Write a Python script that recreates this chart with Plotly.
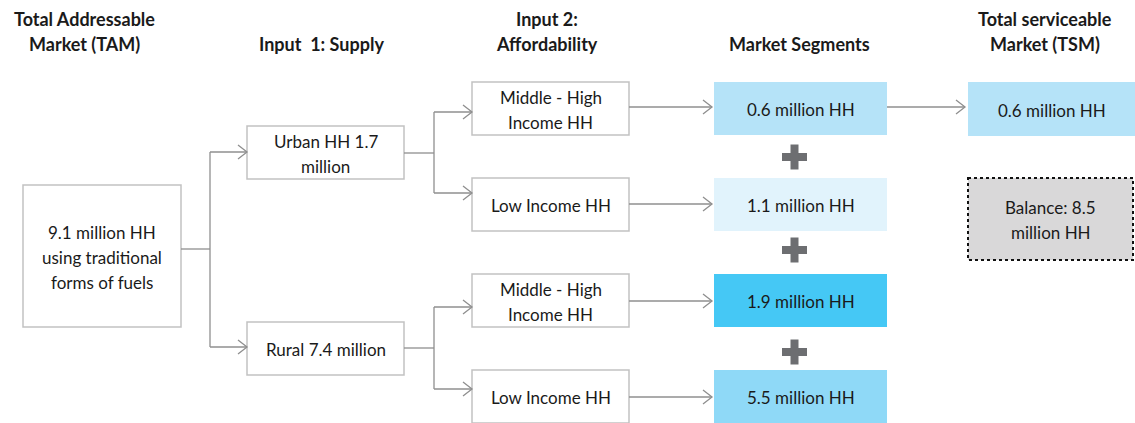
import plotly.graph_objects as go

# ---- data ----
headers = ["Total Addressable<br>Market (TAM)", "Input  1: Supply", "Input 2:<br>Affordability",
           "Market Segments", "Total serviceable<br>Market (TSM)"]
tam_label = "9.1 million HH<br>using traditional<br>forms of fuels"
supply_labels = ["Urban HH 1.7<br>million", "Rural 7.4 million"]
afford_labels = ["Middle - High<br>Income HH", "Low Income HH", "Middle - High<br>Income HH", "Low Income HH"]
segment_values = [0.6, 1.1, 1.9, 5.5]
segment_colors = ["#b5e3f8", "#e1f3fc", "#45c8f5", "#8fd9f7"]
tsm_value = 0.6
balance_value = 8.5

# ---- layout geometry (pixels) ----
W, H = 1135, 423
FONT = "Lato"
LINE = "#8f8f8f"
BORDER = "#c2c2c2"
TXT = "#1a1a1a"
LS = 25  # line spacing

fig = go.Figure()
shapes = []
ann = []

def text_lines(xc, yc, text, size=17, bold=False):
    lines = text.split("<br>")
    n = len(lines)
    for i, ln in enumerate(lines):
        y = yc + (i - (n - 1) / 2) * LS
        t = f"<b>{ln}</b>" if bold else ln
        ann.append(dict(x=xc, y=y, text=t, showarrow=False, yanchor="middle",
                        font=dict(family=FONT, size=size, color=TXT), align="center"))

def box(x0, y0, x1, y1, text, fill="white", line=BORDER, dash=None, lw=1.5, size=17):
    d = dict(type="rect", x0=x0, y0=y0, x1=x1, y1=y1, fillcolor=fill,
             line=dict(color=line, width=lw), layer="below")
    if dash:
        d["line"]["dash"] = dash
    shapes.append(d)
    text_lines((x0 + x1) / 2, (y0 + y1) / 2 + 1, text, size=size)

def seg(x0, y0, x1, y1):
    shapes.append(dict(type="line", x0=x0, y0=y0, x1=x1, y1=y1, line=dict(color=LINE, width=1.3)))

def arrow(x0, y, x1):
    seg(x0, y, x1, y)
    shapes.append(dict(type="path", path=f"M {x1-9},{y-7} L {x1},{y} L {x1-9},{y+7}",
                       line=dict(color=LINE, width=1.3)))

# headers
hx = [84, 321, 547, 799, 1045]
for x, t in zip(hx, headers):
    n = len(t.split("<br>"))
    text_lines(x, 44 - (n - 1) * LS / 2 - 0.5 * (n - 1), t, size=18, bold=True)

# TAM
box(23, 185, 181, 327, tam_label)
seg(181, 249, 210, 249)
seg(210, 152, 210, 347)
arrow(210, 152, 247)
arrow(210, 347, 247)

# supply
supply_y = [(126, 179), (322, 375)]
for (y0, y1), t in zip(supply_y, supply_labels):
    box(247, y0, 404, y1, t)

# affordability
afford_y = [(82, 135), (178, 231), (274, 327), (370, 423)]
branch = [(153, 112, 193), (348, 307, 389)]
for yc, ya, yb in branch:
    seg(404, yc, 434, yc)
    seg(434, ya, 434, yb)
    arrow(434, ya, 472)
    arrow(434, yb, 472)
for (y0, y1), t in zip(afford_y, afford_labels):
    box(472, y0, 629, y1, t)

# segments
arrow_y = [107, 204, 301, 397]
for (y0, y1), ay, v, c in zip(afford_y, arrow_y, segment_values, segment_colors):
    arrow(629, ay, 712)
    box(714, y0, 887, y1, f"{v} million HH", fill=c, line=c, lw=0)

# plus signs
for py in [157, 250, 352]:
    shapes.append(dict(type="rect", x0=782, x1=807, y0=py - 4, y1=py + 4, fillcolor="#6d6e71", line_width=0))
    shapes.append(dict(type="rect", x0=790.5, x1=798.5, y0=py - 12.5, y1=py + 12.5, fillcolor="#6d6e71", line_width=0))

# TSM
arrow(887, 107, 965)
box(968, 82, 1135, 136, f"{tsm_value} million HH", fill=segment_colors[0], line=segment_colors[0], lw=0)
box(968, 178, 1133, 260, f"Balance: {balance_value}<br>million HH", fill="#d9d8d9",
    line="#111111", dash="dot", lw=2)

fig.update_layout(
    width=W, height=H, margin=dict(l=0, r=0, t=0, b=0),
    paper_bgcolor="white", plot_bgcolor="white",
    xaxis=dict(range=[0, W], visible=False, fixedrange=True),
    yaxis=dict(range=[H, 0], visible=False, fixedrange=True),
    shapes=shapes, annotations=ann, showlegend=False,
)
fig.write_html("out.html", config={"displayModeBar": False},
               post_script="document.body.style.margin='0';document.body.style.overflow='hidden';")
